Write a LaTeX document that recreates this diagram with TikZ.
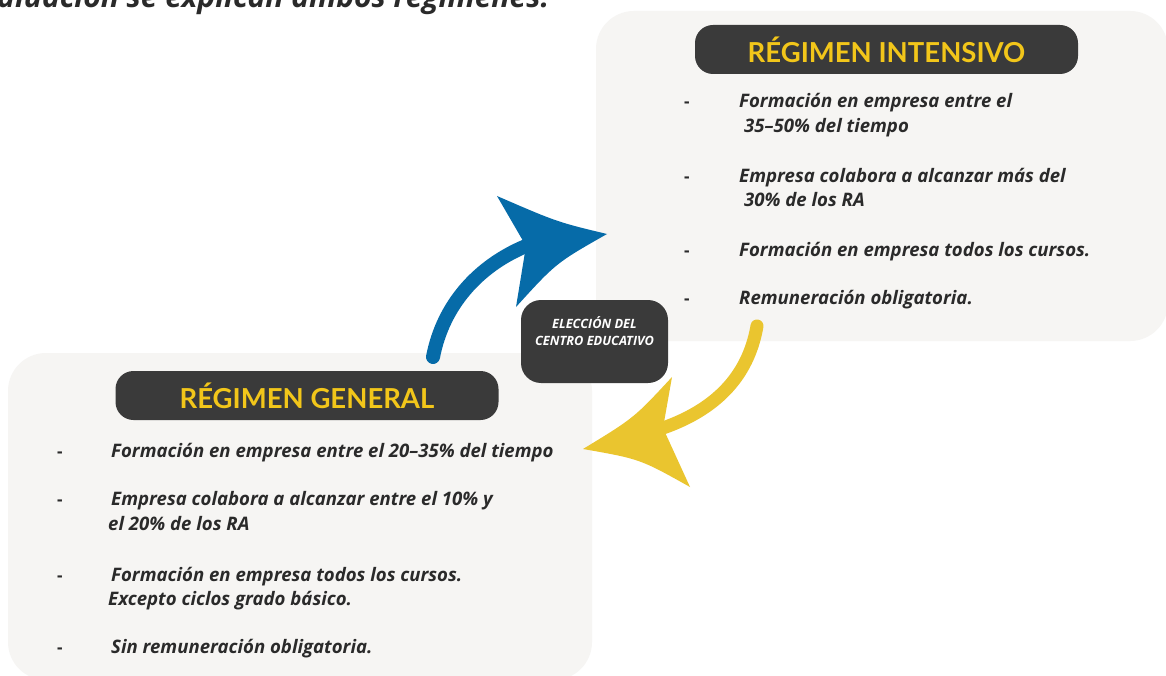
\documentclass[tikz,border=0pt]{standalone}
\usepackage{fontspec}
\setmainfont{Open Sans}
\newfontfamily\titlefont{Lato}
\definecolor{panelgray}{HTML}{F6F5F3}
\definecolor{darkbox}{HTML}{3A3A3A}
\definecolor{titleyellow}{HTML}{F2C61A}
\definecolor{textdark}{HTML}{2A2A2A}
\definecolor{arrowblue}{HTML}{066BA8}
\definecolor{arrowyellow}{HTML}{EAC52F}
\begin{document}
\begin{tikzpicture}[x=1pt,y=-1pt,
  panel/.style={fill=panelgray, rounded corners=38pt, inner sep=0pt},
  titlebox/.style={fill=darkbox, rounded corners=18pt, minimum width=383pt, minimum height=49pt, inner sep=0pt, text=titleyellow, font=\titlefont\fontsize{27.5}{30}\selectfont\bfseries},
  centerbox/.style={fill=darkbox, rounded corners=20pt, minimum width=147pt, minimum height=83pt, inner sep=0pt, text=white, align=center, font=\fontsize{12.8}{17}\selectfont\bfseries\itshape},
  bullet/.style={anchor=base west, text=textdark, inner sep=0pt, font=\fontsize{18.6}{21}\selectfont\bfseries\itshape},
  dashmark/.style={anchor=base west, text=textdark, inner sep=0pt, font=\fontsize{17}{21}\selectfont\bfseries},
  shaft/.style={line width=14pt, line cap=round}
]
\useasboundingbox (0,0) rectangle (1166,676);
\fill[white] (0,0) rectangle (1166,676);

% heading (cut off at top)
\node[anchor=base west, inner sep=0pt, text=textdark, font=\fontsize{30}{34}\selectfont\bfseries\itshape] (heading) at (-3,8) {aluación se explican ambos regímenes.};

% panels
\node[panel, minimum width=572pt, minimum height=330pt] (pint) at (882,176) {};
\node[panel, minimum width=584pt, minimum height=327pt] (pgen) at (300,516.5) {};

% titles
\node[titlebox] (tint) at (886.5,49.5) {RÉGIMEN INTENSIVO};
\node[titlebox] (tgen) at (307,395.5) {RÉGIMEN GENERAL};

% intensive bullets
\node[dashmark] (di1) at (684,108) {-};
\node[bullet] (i1a) at (739,108) {Formación en empresa entre el};
\node[bullet] (i1b) at (744,133) {35–50\% del tiempo};
\node[dashmark] (di2) at (684,183) {-};
\node[bullet] (i2a) at (739,183) {Empresa colabora a alcanzar más del};
\node[bullet] (i2b) at (744,207) {30\% de los RA};
\node[dashmark] (di3) at (684,256) {-};
\node[bullet] (i3) at (739,256) {Formación en empresa todos los cursos.};
\node[dashmark] (di4) at (684,304) {-};
\node[bullet] (i4) at (739,304) {Remuneración obligatoria.};

% general bullets
\node[dashmark] (dg1) at (57,457) {-};
\node[bullet] (g1) at (111,457) {Formación en empresa entre el 20–35\% del tiempo};
\node[dashmark] (dg2) at (57,505) {-};
\node[bullet] (g2a) at (111,505) {Empresa colabora a alcanzar entre el 10\% y};
\node[bullet] (g2b) at (108,530) {el 20\% de los RA};
\node[dashmark] (dg3) at (57,581) {-};
\node[bullet] (g3a) at (111,581) {Formación en empresa todos los cursos.};
\node[bullet] (g3b) at (108,605) {Excepto ciclos grado básico.};
\node[dashmark] (dg4) at (57,653) {-};
\node[bullet] (g4) at (111,653) {Sin remuneración obligatoria.};

% blue arrow
\coordinate (bs) at (433,357);
\coordinate (bn) at (526,246);
\coordinate (bt) at (607,234);
\coordinate (bw1) at (497,196);
\coordinate (bw2) at (516,307);
\draw[shaft, arrowblue] (bs) .. controls (443,305) and (478,266) .. (bn);
\fill[arrowblue] (bt) .. controls (557,222) .. (bw1) -- (bn) -- (bw2) .. controls (556,263) .. (bt) -- cycle;

% yellow arrow
\coordinate (ys) at (757,326);
\coordinate (yn) at (663,428);
\coordinate (yt) at (583,449);
\coordinate (yw1) at (672,377);
\coordinate (yw2) at (690,487);
\draw[shaft, arrowyellow, line width=13pt] (ys) .. controls (748,378) and (714,410) .. (yn);
\fill[arrowyellow] (yt) .. controls (634,418) .. (yw1) -- (yn) -- (yw2) .. controls (640,459) .. (yt) -- cycle;

% centre box
\node[centerbox] (choice) at (594.5,341.5) {ELECCIÓN DEL\\CENTRO EDUCATIVO\\[-2pt]\strut};
\end{tikzpicture}
\end{document}
